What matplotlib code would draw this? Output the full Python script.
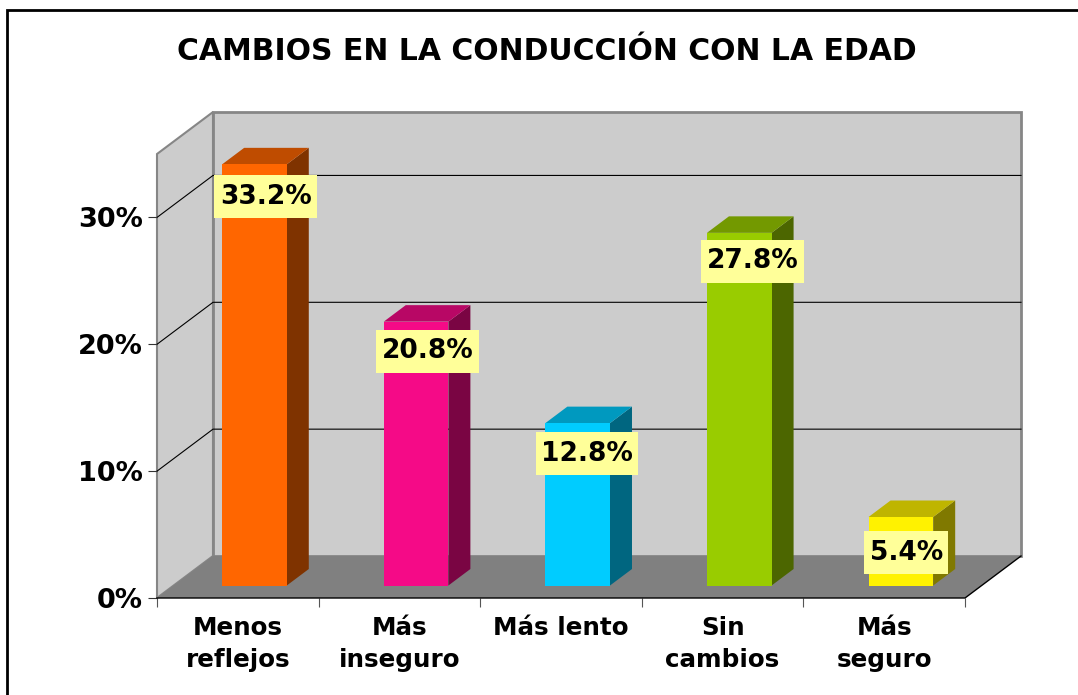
import matplotlib
matplotlib.use('Agg')
import matplotlib.pyplot as plt
from matplotlib.lines import Line2D
from matplotlib.patches import Polygon
from matplotlib.path import Path

# chart data
title = 'CAMBIOS EN LA CONDUCCIÓN CON LA EDAD'
categories = ['Menos\nreflejos', 'Más\ninseguro', 'Más lento', 'Sin\ncambios', 'Más\nseguro']
values = [33.2, 20.8, 12.8, 27.8, 5.4]
y_ticks = [0, 10, 20, 30]
y_tick_labels = ['0%', '10%', '20%', '30%']
y_max = 35

# face colours of the bars: front, side, top
front_colors = ['#FF6600', '#F50A87', '#00CCFF', '#99CC00', '#FFF200']
side_colors = ['#7F3300', '#7A0543', '#006680', '#4C6600', '#807900']
top_colors = ['#BF4C00', '#B80765', '#0099BF', '#739900', '#BFB500']

WIDTH, HEIGHT = 1078, 695
# size of the whole depth of the box, in data units
DEPTH_X = 56 / 161.6
DEPTH_Y = 42 / 12.69
BAR_WIDTH = 0.4
BAR_DEPTH_FRONT = 12.5 / 42
BAR_DEPTH_BACK = 29 / 42


def project(x, y, depth):
    """
    fake 3d: moves a point of the front plane towards the back of the box
    :param x: category position
    :param y: value
    :param depth: 0 at the front, 1 at the back
    :return: x, y in axes data
    """
    return x + depth * DEPTH_X, y + depth * DEPTH_Y


def face(ax, points, color, edge='none', lw=0, zorder=2):
    """
    draws one flat face from (x, y, depth) points
    """
    corners = [project(*p) for p in points]
    ax.add_patch(Polygon(corners, closed=True, facecolor=color, edgecolor=edge,
                         linewidth=lw, clip_on=False, zorder=zorder, joinstyle='miter'))


def label_box(x0, y0, width, height, mutation_size):
    """
    box for the value labels, wider padding top and bottom than at the sides
    """
    pad_x, pad_y = 5.5, 8.5
    left, right = x0 - pad_x, x0 + width + pad_x
    bottom, top = y0 - pad_y, y0 + height + pad_y
    return Path([(left, bottom), (right, bottom), (right, top), (left, top), (left, bottom)], closed=True)


def draw_box(ax, n):
    """
    draws side wall, back wall, gridlines and floor
    """
    wall = '#CCCCCC'
    edge = '#868686'
    face(ax, [(0, 0, 0), (0, y_max, 0), (0, y_max, 1), (0, 0, 1)], wall, edge, 1.5, 1)
    face(ax, [(0, 0, 1), (0, y_max, 1), (n, y_max, 1), (n, 0, 1)], wall, edge, 2, 1)
    for y in y_ticks[1:]:
        xs, ys = zip(project(0, y, 0), project(0, y, 1), project(n, y, 1))
        ax.plot(xs, ys, color='black', lw=0.8, clip_on=False, zorder=1.5)
    face(ax, [(0, 0, 0), (n, 0, 0), (n, 0, 1), (0, 0, 1)], '#808080', zorder=1.6)
    xs, ys = zip(project(0, 0, 0), project(n, 0, 0), project(n, 0, 1))
    ax.plot(xs, ys, color='black', lw=1, clip_on=False, zorder=1.7)


def draw_bars(ax):
    """
    draws front, side and top of each bar and its value label
    """
    # where each label sits relative to the middle of the bar top, in pixels
    shifts = [0, 0, -2, 2, -6]
    drops = [41, 38, 39, 37, 44]
    for i, value in enumerate(values):
        x0 = i + 0.5 - BAR_WIDTH / 2
        x1 = i + 0.5 + BAR_WIDTH / 2
        d0, d1 = BAR_DEPTH_FRONT, BAR_DEPTH_BACK
        face(ax, [(x1, 0, d0), (x1, value, d0), (x1, value, d1), (x1, 0, d1)], side_colors[i], zorder=3)
        face(ax, [(x0, value, d0), (x1, value, d0), (x1, value, d1), (x0, value, d1)], top_colors[i], zorder=3)
        face(ax, [(x0, 0, d0), (x1, 0, d0), (x1, value, d0), (x0, value, d0)], front_colors[i], zorder=3.1)
        ax.annotate(f'{value:.1f}%', project(i + 0.5, value, 0.5),
                    xytext=(shifts[i] * 0.72, -drops[i] * 0.72),
                    textcoords='offset points', ha='center', va='center', fontsize=19,
                    fontweight='bold', color='black', zorder=5, annotation_clip=False,
                    bbox=dict(boxstyle=label_box, facecolor='#FFFF99', edgecolor='none'))


def main():
    """
    builds the figure and saves it as out.png
    """
    fig = plt.figure(figsize=(WIDTH / 100, HEIGHT / 100), dpi=100)
    ax = fig.add_axes([157 / WIDTH, (HEIGHT - 598) / HEIGHT, 808 / WIDTH, 444 / HEIGHT])
    n = len(categories)
    ax.set_xlim(0, n)
    ax.set_ylim(0, y_max)
    for spine in ax.spines.values():
        spine.set_visible(False)
    ax.patch.set_visible(False)

    draw_box(ax, n)
    draw_bars(ax)

    ax.set_yticks(y_ticks, y_tick_labels, fontsize=19.5, fontweight='bold')
    ax.set_xticks(range(n + 1), [''] * (n + 1))
    ax.set_xticks([i + 0.5 for i in range(n)], categories, minor=True, fontsize=17.7,
                  fontweight='bold', linespacing=1.4)
    ax.tick_params(axis='y', length=6.5, width=0.8, pad=3.5, color='#333333')
    ax.tick_params(axis='x', which='major', length=6.5, width=0.8, color='#555555')
    ax.tick_params(axis='x', which='minor', length=0, pad=13)

    fig.text(546.5 / WIDTH, (HEIGHT - 52) / HEIGHT, title, ha='center', va='center',
             fontsize=21.5, fontweight='bold')

    # outer frame, only left and top are inside the picture
    fig.add_artist(Line2D([7 / WIDTH, 7 / WIDTH, 1], [0, (HEIGHT - 10) / HEIGHT, (HEIGHT - 10) / HEIGHT],
                          color='black', lw=2, solid_joinstyle='miter'))
    fig.savefig('out.png', dpi=100)


if __name__ == '__main__':
    main()
